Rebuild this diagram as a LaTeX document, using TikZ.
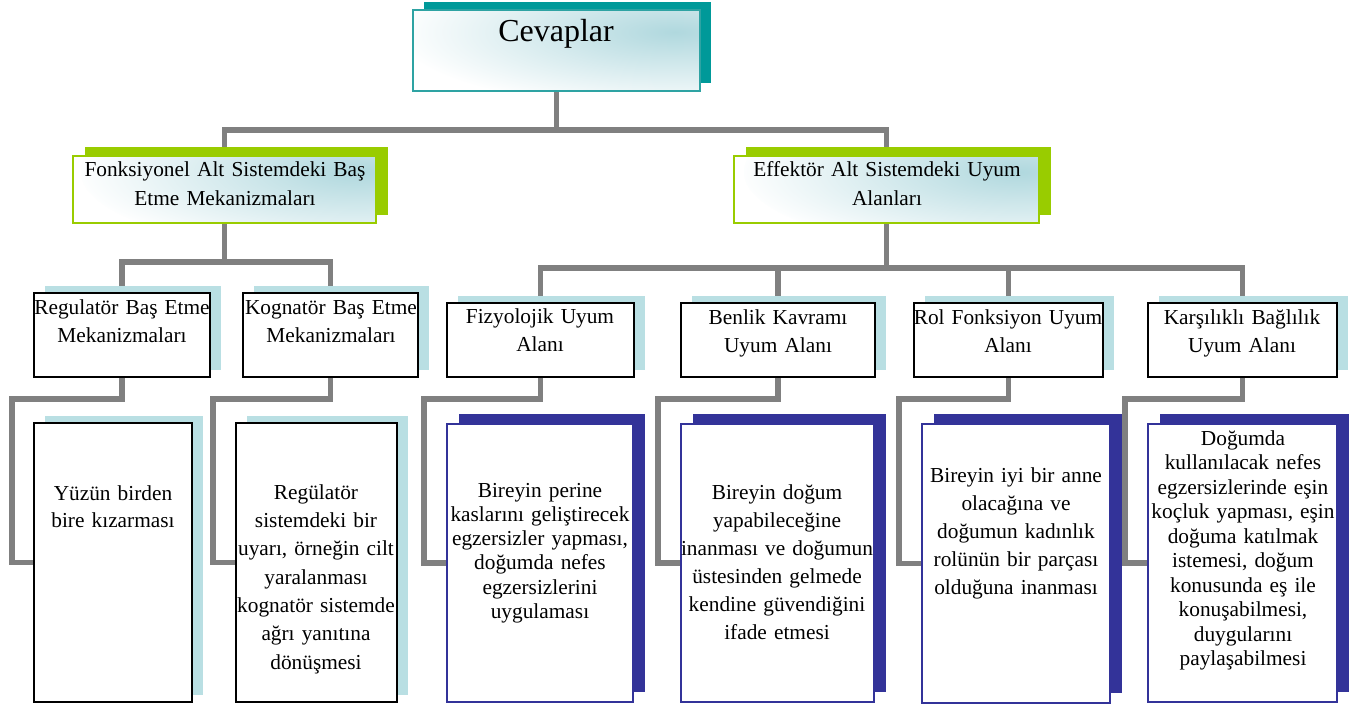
\documentclass[tikz,border=0pt]{standalone}
\usepackage{fontspec}
\setmainfont{Liberation Serif}
\usetikzlibrary{fit}
\pgfdeclarelayer{background}
\pgfdeclarelayer{shadowlayer}
\pgfsetlayers{background,shadowlayer,main}
\definecolor{conngray}{HTML}{808080}
\definecolor{tealdark}{HTML}{009999}
\definecolor{tealline}{HTML}{2EA3A3}
\definecolor{limegreen}{HTML}{99CC00}
\definecolor{paleblue}{HTML}{B9DFE3}
\definecolor{navyblue}{HTML}{333399}
\definecolor{gradblue}{HTML}{B0D8DE}
\newcommand\dropshade[3]{\fill[#1] ([shift={(#2)}]#3.south west) rectangle ([shift={(#2)}]#3.north east);}
\begin{document}
\begin{tikzpicture}[x=0.75pt,y=-0.75pt,
  conn/.style={draw=conngray,line width=4.2pt,line cap=rect},
  basebox/.style={inner sep=0pt,outer sep=0pt,fill=white},
  topbox/.style={basebox,draw=tealline,line width=1.1pt,
    path picture={\shade[inner color=gradblue,outer color=white]
      ([shift={(-25,22)}]path picture bounding box.north east) ellipse [x radius=210pt,y radius=58pt];}},
  midbox/.style={basebox,draw=limegreen,line width=1.6pt,
    path picture={\shade[inner color=gradblue,outer color=white]
      ([shift={(-15,16)}]path picture bounding box.north east) ellipse [x radius=210pt,y radius=62pt];}},
  blackbox/.style={basebox,draw=black,line width=1.2pt},
  navybox/.style={basebox,draw=navyblue,line width=0.9pt},
  txt/.style={align=center,text width=260pt,inner sep=0pt,anchor=base},
  bigfont/.style={font=\fontsize{24}{28}\selectfont},
]
\useasboundingbox (0,0) rectangle (1362,706);

% ---------- boxes ----------
\node[topbox,fit={(413,10) (700,91)}] (cev) {};
\node[midbox,fit={(73,156) (376,223)}] (fonk) {};
\node[midbox,fit={(734,156) (1039,223)}] (eff) {};

\node[blackbox,fit={(34,293) (210,377)}] (reg) {};
\node[blackbox,fit={(243,293) (418,377)}] (kog) {};
\node[blackbox,fit={(447,303) (634,377)}] (fiz) {};
\node[blackbox,fit={(681,303) (875,377)}] (ben) {};
\node[blackbox,fit={(914,303) (1103,377)}] (rol) {};
\node[blackbox,fit={(1148,303) (1337,377)}] (kar) {};

\node[blackbox,fit={(34,423) (192,702)}] (yuz) {};
\node[blackbox,fit={(236,423) (397,702)}] (regu) {};
\node[navybox,fit={(447,424) (633,702)}] (fizc) {};
\node[navybox,fit={(681,424) (874,702)}] (benc) {};
\node[navybox,fit={(922,424) (1110,703)}] (rolc) {};
\node[navybox,fit={(1148,424) (1337,702)}] (karc) {};

% ---------- shadows ----------
\begin{pgfonlayer}{shadowlayer}
\dropshade{tealdark}{10.5,-7.5}{cev}
\dropshade{limegreen}{11.5,-8.5}{fonk}
\dropshade{limegreen}{11.5,-8.5}{eff}
\foreach \b in {reg,kog,fiz,ben,rol,kar,yuz,regu}{\dropshade{paleblue}{11,-7.5}{\b}}
\foreach \b in {fizc,benc,rolc,karc}{\dropshade{navyblue}{11.5,-10.5}{\b}}
\end{pgfonlayer}

% ---------- connectors ----------
\coordinate (bar1) at (0,130);
\coordinate (bar2) at (0,262);
\coordinate (bar3) at (0,268);
\begin{pgfonlayer}{background}
\draw[conn] (cev.south) -- (cev.south |- bar1) -| (fonk.north);
\draw[conn] (cev.south |- bar1) -| (eff.north);
\draw[conn] (fonk.south) -- (fonk.south |- bar2) -| (reg.north);
\draw[conn] (fonk.south |- bar2) -| (kog.north);
\draw[conn] (eff.south) -- (eff.south |- bar3) -| (fiz.north);
\draw[conn] (eff.south |- bar3) -| (ben.north);
\draw[conn] (eff.south |- bar3) -| (rol.north);
\draw[conn] (eff.south |- bar3) -| (kar.north);
\draw[conn] (reg.south) -- ++(0,22) -| ([shift={(-22,0)}]yuz.west) -- (yuz.west);
\draw[conn] (kog.south) -- ++(0,22) -| ([shift={(-23,0)}]regu.west) -- (regu.west);
\draw[conn] (fiz.south) -- ++(0,22) -| ([shift={(-23,0)}]fizc.west) -- (fizc.west);
\draw[conn] (ben.south) -- ++(0,22) -| ([shift={(-23,0)}]benc.west) -- (benc.west);
\draw[conn] (rol.south) -- ++(0,22) -| ([shift={(-23,0)}]rolc.west) -- (rolc.west);
\draw[conn] (kar.south) -- ++(0,22) -| ([shift={(-23,0)}]karc.west) -- (karc.west);
\end{pgfonlayer}

% ---------- texts ----------
\node[txt,bigfont] (tcev) at (556,42) {Cevaplar};
\node[txt,font=\fontsize{16}{21.75}\selectfont] (tfonk) at (225,176) {Fonksiyonel Alt Sistemdeki Baş\\Etme Mekanizmaları};
\node[txt,font=\fontsize{16}{21.75}\selectfont] (teff) at (887,176) {Effektör Alt Sistemdeki Uyum\\Alanları};

\node[txt,font=\fontsize{16}{21}\selectfont] (treg) at (122,314) {Regulatör Baş Etme\\Mekanizmaları};
\node[txt,font=\fontsize{16}{21}\selectfont] (tkog) at (331,314) {Kognatör Baş Etme\\Mekanizmaları};
\node[txt,font=\fontsize{16}{21.5}\selectfont] (tfiz) at (540,323) {Fizyolojik Uyum\\Alanı};
\node[txt,font=\fontsize{16}{21.5}\selectfont] (tben) at (778,324) {Benlik Kavramı\\Uyum Alanı};
\node[txt,font=\fontsize{16}{21.5}\selectfont] (trol) at (1008,324) {Rol Fonksiyon Uyum\\Alanı};
\node[txt,font=\fontsize{16}{21.5}\selectfont] (tkar) at (1242,324) {Karşılıklı Bağlılık\\Uyum Alanı};

\node[txt,font=\fontsize{16}{20.5}\selectfont] (tyuz) at (113,500) {Yüzün birden\\bire kızarması};
\node[txt,font=\fontsize{16}{21.25}\selectfont] (tregu) at (316,499) {Regülatör\\sistemdeki bir\\uyarı, örneğin cilt\\yaralanması\\kognatör sistemde\\ağrı yanıtına\\dönüşmesi};
\node[txt,font=\fontsize{16}{18.2}\selectfont] (tfizc) at (540,497) {Bireyin perine\\kaslarını geliştirecek\\egzersizler yapması,\\doğumda nefes\\egzersizlerini\\uygulaması};
\node[txt,font=\fontsize{16}{21}\selectfont] (tbenc) at (777,499) {Bireyin doğum\\yapabileceğine\\inanması ve doğumun\\üstesinden gelmede\\kendine güvendiğini\\ifade etmesi};
\node[txt,font=\fontsize{16}{21}\selectfont] (trolc) at (1016,482) {Bireyin iyi bir anne\\olacağına ve\\doğumun kadınlık\\rolünün bir parçası\\olduğuna inanması};
\node[txt,font=\fontsize{16}{18.4}\selectfont] (tkarc) at (1243,445) {Doğumda\\kullanılacak nefes\\egzersizlerinde eşin\\koçluk yapması, eşin\\doğuma katılmak\\istemesi, doğum\\konusunda eş ile\\konuşabilmesi,\\duygularını\\paylaşabilmesi};
\end{tikzpicture}
\end{document}
